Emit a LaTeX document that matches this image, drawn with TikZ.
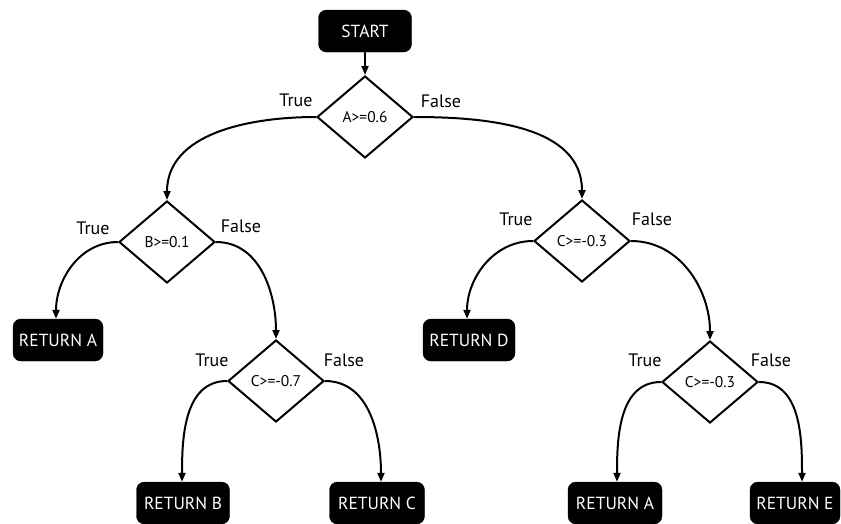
\documentclass[tikz,border=0pt]{standalone}
\usepackage{fontspec}
\setmainfont{PT Sans}
\usetikzlibrary{shapes.geometric,arrows.meta}
\begin{document}
\begin{tikzpicture}[x=1pt,y=-1pt,
  term/.style={draw=black,fill=black,text=white,rounded corners=8pt,minimum height=42pt,inner sep=0pt,font=\fontsize{17.5}{20}\selectfont},
  dec/.style={diamond,draw=black,line width=2pt,minimum width=96pt,minimum height=82pt,inner sep=0pt,font=\fontsize{15.5}{18}\selectfont},
  lbl/.style={font=\fontsize{18}{20}\selectfont,inner sep=0pt},
  arr/.style={line width=2pt,-{Triangle[length=9pt,width=7pt]}}]
\useasboundingbox (0,0) rectangle (841,523);
\node[term,minimum width=93pt] (start) at (365,31) {START};
\node[dec] (a) at (365,117) {A>=0.6};
\node[dec] (b) at (167,242) {B>=0.1};
\node[dec] (c1) at (582,241) {C>=-0.3};
\node[dec] (c2) at (276,381) {C>=-0.7};
\node[dec] (c3) at (710,382) {C>=-0.3};
\node[term,minimum width=90pt] (ra) at (58,340) {RETURN A};
\node[term,minimum width=92pt] (rd) at (469,340) {RETURN D};
\node[term,minimum width=93pt] (rb) at (183,503) {RETURN B};
\node[term,minimum width=95pt] (rc) at (377,503) {RETURN C};
\node[term,minimum width=94pt] (ra2) at (615,503) {RETURN A};
\node[term,minimum width=90pt] (re) at (795,503) {RETURN E};
\draw[arr] (start) -- (a);
\draw[arr] (a.west) to[out=180,in=90] (b.north);
\draw[arr] (a.east) to[out=0,in=90] (c1.north);
\draw[arr] (b.west) to[out=180,in=90] (ra.north-|56,0);
\draw[arr] (b.east) to[out=0,in=90] (c2.north);
\draw[arr] (c1.west) to[out=180,in=90] (rd.north-|467,0);
\draw[arr] (c1.east) to[out=0,in=90] (c3.north);
\draw[arr] (c2.west) to[out=180,in=90] (rb.north-|182,0);
\draw[arr] (c2.east) to[out=0,in=90] (rc.north-|381,0);
\draw[arr] (c3.west) to[out=180,in=90] (ra2.north-|617,0);
\draw[arr] (c3.east) to[out=0,in=90] (re.north-|802,0);
\node[lbl] (ta) at (296,100) {True};
\node[lbl] (fa) at (441,101) {False};
\node[lbl] (tb) at (93,228) {True};
\node[lbl] (fb) at (241,226) {False};
\node[lbl] (tc1) at (516,219) {True};
\node[lbl] (fc1) at (652,219) {False};
\node[lbl] (tc2) at (212,360) {True};
\node[lbl] (fc2) at (344,360) {False};
\node[lbl] (tc3) at (645,360) {True};
\node[lbl] (fc3) at (771,360) {False};
\end{tikzpicture}
\end{document}
